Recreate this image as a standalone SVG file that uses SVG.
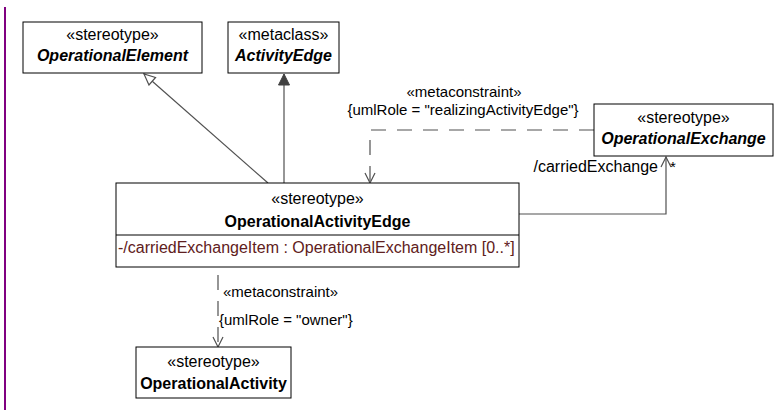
<svg xmlns="http://www.w3.org/2000/svg" width="777" height="410" viewBox="0 0 777 410">
<style>
.box{fill:#fff;stroke:#000;stroke-width:1}
.st{font-family:"Liberation Sans",Arial,sans-serif;font-size:16px;fill:#000;text-anchor:middle}
.nm{font-family:"Liberation Sans",Arial,sans-serif;font-size:16px;font-weight:bold;fill:#000;text-anchor:middle}
.it{font-style:italic}
.attr{font-family:"Liberation Sans",Arial,sans-serif;font-size:16px;fill:#602020}
.lbl{font-family:"Liberation Sans",Arial,sans-serif;font-size:15px;fill:#000}
.ln{fill:none;stroke:#505050;stroke-width:1.2}
.dash{fill:none;stroke:#505050;stroke-width:1.2;stroke-dasharray:15 11}
</style>
<defs>
<marker id="gen" markerWidth="14" markerHeight="14" refX="12" refY="6" orient="auto" markerUnits="userSpaceOnUse">
<path d="M1,1 L12,6 L1,11 Z" fill="#fff" stroke="#505050" stroke-width="1.2"/>
</marker>
<marker id="tri" markerWidth="14" markerHeight="14" refX="12" refY="6" orient="auto" markerUnits="userSpaceOnUse">
<path d="M1,0.5 L12,6 L1,11.5 Z" fill="#404040" stroke="#404040" stroke-width="1"/>
</marker>
<marker id="open" markerWidth="14" markerHeight="14" refX="11" refY="6" orient="auto" markerUnits="userSpaceOnUse">
<path d="M1,1 L11,6 L1,11" fill="none" stroke="#505050" stroke-width="1.2"/>
</marker>
</defs>
<rect x="4" y="7" width="2" height="403" fill="#800080"/>
<g id="connectors">
<line class="ln" x1="268" y1="183" x2="144" y2="74" marker-end="url(#gen)"/>
<line class="ln" x1="284" y1="183" x2="284" y2="74" marker-end="url(#tri)"/>
<polyline class="dash" points="594,130 370,130 370,183" marker-end="url(#open)"/>
<line class="dash" x1="218" y1="275" x2="218" y2="347" marker-end="url(#open)"/>
<polyline class="ln" points="519,214 666,214 666,157" marker-end="url(#open)"/>
<text class="lbl" x="464" y="97" text-anchor="middle">«metaconstraint»</text>
<text class="lbl" x="463" y="115" text-anchor="middle">{umlRole = "realizingActivityEdge"}</text>
<text class="lbl" x="223" y="297">«metaconstraint»</text>
<text class="lbl" x="219" y="325">{umlRole = "owner"}</text>
<text class="attr" x="658" y="172" text-anchor="end" fill="#000" style="fill:#000">/carriedExchange</text>
<text class="lbl" x="670" y="172">*</text>
</g>
<g id="OperationalElement">
<rect class="box" x="23" y="22" width="179" height="51"/>
<text class="st" x="112.5" y="40">«stereotype»</text>
<text class="nm it" x="112.5" y="61">OperationalElement</text>
</g>
<g id="ActivityEdge">
<rect class="box" x="228" y="22" width="111" height="51"/>
<text class="st" x="283.5" y="40">«metaclass»</text>
<text class="nm it" x="283.5" y="61">ActivityEdge</text>
</g>
<g id="OperationalExchange">
<rect class="box" x="594" y="104" width="179" height="52"/>
<text class="st" x="683.5" y="123">«stereotype»</text>
<text class="nm it" x="683.5" y="144">OperationalExchange</text>
</g>
<g id="OperationalActivityEdge">
<rect class="box" x="116" y="183" width="403" height="84"/>
<line x1="116" y1="235" x2="519" y2="235" stroke="#000" stroke-width="1"/>
<text class="st" x="317.5" y="204">«stereotype»</text>
<text class="nm" x="317.5" y="227">OperationalActivityEdge</text>
<text class="attr" x="118" y="253">-/carriedExchangeItem : OperationalExchangeItem [0..*]</text>
</g>
<g id="OperationalActivity">
<rect class="box" x="136" y="347" width="155" height="51"/>
<text class="st" x="213.5" y="367">«stereotype»</text>
<text class="nm" x="213.5" y="389">OperationalActivity</text>
</g>
</svg>
